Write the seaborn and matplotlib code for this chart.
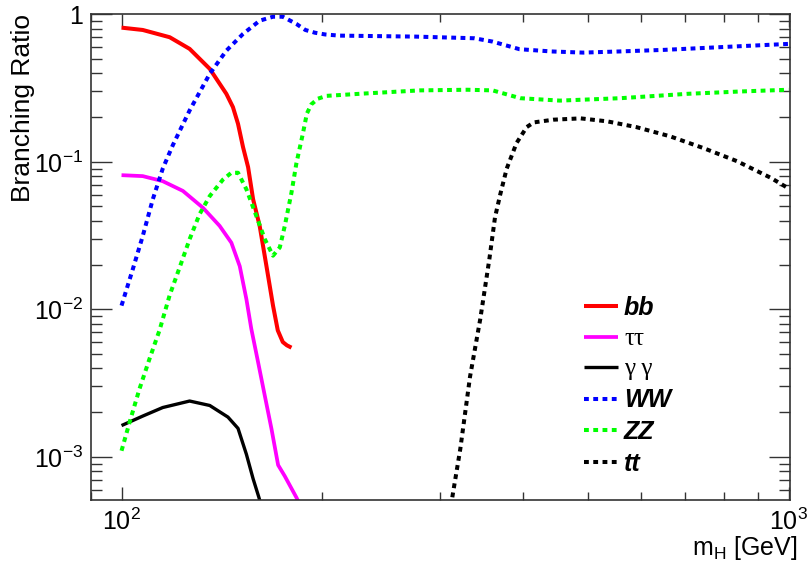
import numpy as np
import pandas as pd
import matplotlib
matplotlib.use("Agg")
import matplotlib.pyplot as plt
import seaborn as sns
from matplotlib.ticker import FixedLocator, FixedFormatter, LogLocator, NullFormatter

# ---------------- data ----------------
mass_bb = [100, 107.6, 118.1, 126.5, 135.6, 143.6, 146.9, 149.5, 152.1, 154.8, 157.5, 161.1, 164.9, 168.7,
           171.5, 174.5, 177, 179.8]
br_bb = [0.812, 0.783, 0.699, 0.583, 0.427, 0.289, 0.235, 0.181, 0.126, 0.092, 0.0557, 0.0368, 0.0197, 0.0106,
         0.0072, 0.0060, 0.0057, 0.0055]

mass_tautau = [100, 107.6, 115.3, 123.6, 132.4, 140.3, 146.1, 150.4, 153.9, 156.5, 160.2, 164.0, 167.8, 171.7,
               175.7, 182.9, 190]
br_tautau = [0.0812, 0.080, 0.0739, 0.0635, 0.0489, 0.0368, 0.0283, 0.0196, 0.0117, 0.0074, 0.0044, 0.00259,
             0.00155, 0.00088, 0.00074, 0.00053, 0.00037]

mass_gamgam = [100, 107.6, 115.3, 126.5, 135.6, 144.4, 149.5, 153.9, 157.5, 160.7, 163]
br_gamgam = [0.00163, 0.00189, 0.00216, 0.00239, 0.00223, 0.00186, 0.00156, 0.00104, 0.00071, 0.00053, 0.00042]

mass_WW = [100, 104, 107.6, 111.4, 115.3, 119.4, 126.5, 135.6, 143.6, 152.1, 161.1, 168.7, 174.5, 182.9,
           188.6, 195, 202, 212, 276, 338, 360, 395, 441, 492, 558, 651, 822, 1000]
br_WW = [0.0106, 0.0188, 0.0314, 0.0557, 0.0900, 0.130, 0.223, 0.395, 0.567, 0.736, 0.905, 0.963, 0.963, 0.86,
         0.783, 0.75, 0.73, 0.717, 0.706, 0.688, 0.653, 0.58, 0.56, 0.55, 0.56, 0.574, 0.604, 0.63]

mass_ZZ = [100, 102.8, 106.4, 110.2, 114, 118.1, 122.2, 126.5, 130.9, 135.6, 141.9, 146.1, 149.5, 153.9,
           159.3, 164, 168.7, 172.7, 175.7, 179.8, 182.9, 187, 189.6, 192.5, 197, 203, 230, 280, 330, 360,
           396, 454, 560, 705, 850, 1000]
br_ZZ = [0.0011, 0.00171, 0.00289, 0.00465, 0.0072, 0.0125, 0.0192, 0.0299, 0.0441, 0.0586, 0.0757, 0.0843,
         0.0843, 0.0651, 0.0428, 0.0299, 0.0231, 0.0263, 0.0368, 0.0618, 0.098, 0.155, 0.212, 0.245, 0.268,
         0.28, 0.29, 0.305, 0.308, 0.305, 0.27, 0.26, 0.27, 0.289, 0.30, 0.308]

mass_tt = [310, 322, 333, 345, 356, 363, 369.6, 378, 391, 405, 415, 444, 488, 535, 591, 664, 745, 837, 940, 1000]
br_tt = [0.0004, 0.00113, 0.00349, 0.0086, 0.0219, 0.0420, 0.0600, 0.090, 0.134, 0.172, 0.185, 0.193, 0.197,
         0.188, 0.172, 0.149, 0.124, 0.101, 0.078, 0.066]

channel_labels = ["bb", "\u03c4\u03c4", "\u03b3 \u03b3", "WW", "ZZ", "tt"]

x_tick_values = [100, 1000]
x_tick_labels = [r"$10^{2}$", r"$10^{3}$"]
y_tick_values = [1e-3, 1e-2, 1e-1, 1]
y_tick_labels = [r"$10^{-3}$", r"$10^{-2}$", r"$10^{-1}$", "1"]

# ---------------- styling ----------------
sns.set_style("ticks")
plt.rcParams["font.family"] = ["Liberation Sans", "DejaVu Sans"]
plt.rcParams["mathtext.fontset"] = "custom"
plt.rcParams["mathtext.rm"] = "Liberation Sans"
plt.rcParams["mathtext.it"] = "Liberation Sans:italic"
plt.rcParams["mathtext.bf"] = "Liberation Sans:bold"
plt.rcParams["text.color"] = "black"
plt.rcParams["axes.labelcolor"] = "black"

fig = plt.figure(figsize=(8.07, 5.65), dpi=100)
fig.patch.set_facecolor("white")
ax = fig.add_axes([91 / 807, 1 - 500 / 565, (790 - 91) / 807, (500 - 14.3) / 565])
ax.set_facecolor("white")

dotted = (0, (1.2, 1.1))
series = [
    (mass_bb, br_bb, channel_labels[0], "#ff0000", "-", 2.9),
    (mass_tautau, br_tautau, channel_labels[1], "#ff00ff", "-", 2.7),
    (mass_gamgam, br_gamgam, channel_labels[2], "#000000", "-", 2.4),
    (mass_WW, br_WW, channel_labels[3], "#0000ff", dotted, 2.9),
    (mass_ZZ, br_ZZ, channel_labels[4], "#00ff00", dotted, 2.9),
    (mass_tt, br_tt, channel_labels[5], "#000000", dotted, 2.9),
]

for m, br, lab, col, ls, lw in series:
    df = pd.DataFrame({"mH": m, "BR": br})
    sns.lineplot(data=df, x="mH", y="BR", ax=ax, color=col, linestyle=ls, linewidth=lw,
                 label=lab, estimator=None, sort=True, dash_capstyle="butt", solid_capstyle="butt",
                 solid_joinstyle="round")

ax.set_xscale("log")
ax.set_yscale("log")
ax.set_xlim(90, 1005)
ax.set_ylim(5.1e-4, 1.0)

ax.xaxis.set_major_locator(FixedLocator(x_tick_values))
ax.xaxis.set_major_formatter(FixedFormatter(x_tick_labels))
ax.xaxis.set_minor_locator(LogLocator(base=10, subs=np.arange(2, 10)))
ax.xaxis.set_minor_formatter(NullFormatter())
ax.yaxis.set_major_locator(FixedLocator(y_tick_values))
ax.yaxis.set_major_formatter(FixedFormatter(y_tick_labels))
ax.yaxis.set_minor_locator(LogLocator(base=10, subs=np.arange(2, 10)))
ax.yaxis.set_minor_formatter(NullFormatter())

tc = "#333333"
ax.tick_params(axis="y", which="major", direction="in", length=14.9, width=1.0, left=True, right=True,
               labelsize=18, pad=6, colors=tc, labelcolor="black")
ax.tick_params(axis="y", which="minor", direction="in", length=7.7, width=1.0, left=True, right=True, colors=tc)
ax.tick_params(axis="x", which="major", direction="in", length=9.5, width=1.0, top=True, bottom=True,
               labelsize=18, pad=6, colors=tc, labelcolor="black")
ax.tick_params(axis="x", which="minor", direction="in", length=5.5, width=1.0, top=True, bottom=True, colors=tc)
for s in ax.spines.values():
    s.set_color(tc)
    s.set_linewidth(1.2)

ax.set_xlabel(r"m$_{\mathrm{H}}$ [GeV]", fontsize=18, loc="right", color="black")
ax.xaxis.set_label_coords(1.011, -0.071)
ax.set_ylabel("Branching Ratio", fontsize=19, loc="top", color="black")
ax.yaxis.set_label_coords(-0.08, 1.0)

leg = ax.legend(loc="upper left", bbox_to_anchor=(584 / 807, 1 - 296 / 565), bbox_transform=fig.transFigure,
                frameon=False, fontsize=18, handlelength=1.35, handletextpad=0.25, labelspacing=0.31,
                borderaxespad=0, borderpad=0)
for i, t in enumerate(leg.get_texts()):
    t.set_color("black")
    if i in (1, 2):
        t.set_fontfamily(["Liberation Serif", "DejaVu Serif"])
        t.set_fontweight("normal")
    else:
        t.set_fontweight("bold")
        t.set_fontstyle("italic")

fig.savefig("out.png", dpi=100, facecolor="white")
